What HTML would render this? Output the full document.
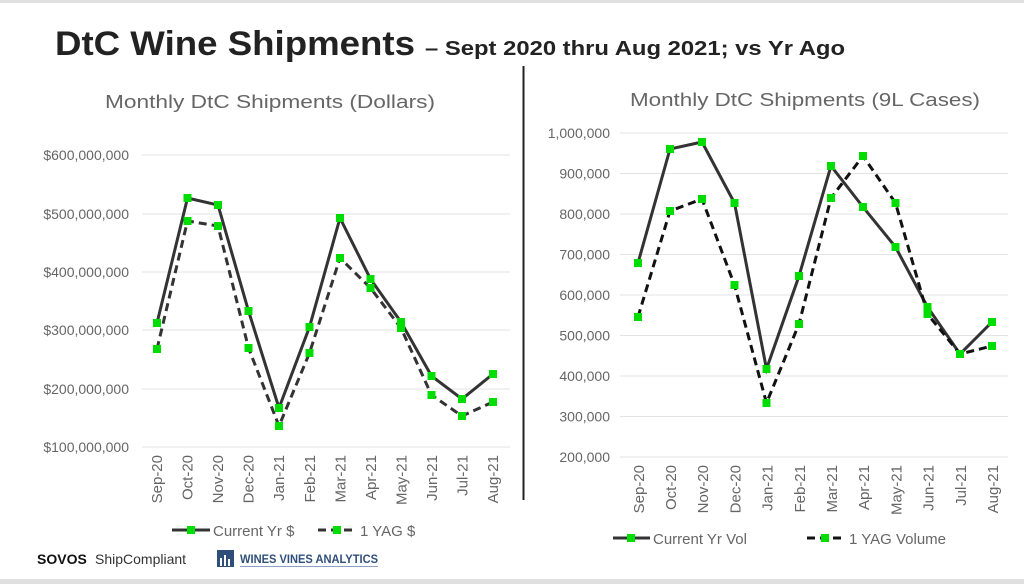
<!DOCTYPE html>
<html><head><meta charset="utf-8"><style>
html,body{margin:0;padding:0;background:#fff;}
svg{display:block;font-family:"Liberation Sans",sans-serif;}
</style></head><body>
<svg width="1024" height="584" viewBox="0 0 1024 584" xmlns="http://www.w3.org/2000/svg">
<rect x="0" y="0" width="1024" height="3" fill="#e0e0e0"/>
<rect x="0" y="579" width="1024" height="5" fill="#e0e0e0"/>
<text x="55" y="55" font-size="34" font-weight="bold" fill="#222" textLength="360" lengthAdjust="spacingAndGlyphs">DtC Wine Shipments</text>
<text x="425" y="55" font-size="20" font-weight="bold" fill="#222" textLength="420" lengthAdjust="spacingAndGlyphs">– Sept 2020 thru Aug 2021; vs Yr Ago</text>
<line x1="523.5" y1="66" x2="523.5" y2="500" stroke="#222" stroke-width="2"/>
<text x="270" y="108" font-size="18" fill="#666" text-anchor="middle" textLength="330" lengthAdjust="spacingAndGlyphs">Monthly DtC Shipments (Dollars)</text>
<text x="805" y="106" font-size="18" fill="#666" text-anchor="middle" textLength="350" lengthAdjust="spacingAndGlyphs">Monthly DtC Shipments (9L Cases)</text>

<!-- Left chart -->
<g stroke="#e3e3e3" stroke-width="1">
<line x1="142" y1="155" x2="510" y2="155"/><line x1="142" y1="214" x2="510" y2="214"/>
<line x1="142" y1="272" x2="510" y2="272"/><line x1="142" y1="330" x2="510" y2="330"/>
<line x1="142" y1="389" x2="510" y2="389"/><line x1="142" y1="447" x2="510" y2="447"/>
</g>
<g font-size="14" fill="#666" text-anchor="end">
<text x="129" y="160">$600,000,000</text><text x="129" y="219">$500,000,000</text>
<text x="129" y="277">$400,000,000</text><text x="129" y="335">$300,000,000</text>
<text x="129" y="394">$200,000,000</text><text x="129" y="452">$100,000,000</text>
</g>
<g font-size="15" fill="#666" text-anchor="end">
<text transform="translate(162,455) rotate(-90)">Sep-20</text>
<text transform="translate(192.5,455) rotate(-90)">Oct-20</text>
<text transform="translate(223,455) rotate(-90)">Nov-20</text>
<text transform="translate(253.5,455) rotate(-90)">Dec-20</text>
<text transform="translate(284,455) rotate(-90)">Jan-21</text>
<text transform="translate(315,455) rotate(-90)">Feb-21</text>
<text transform="translate(345.5,455) rotate(-90)">Mar-21</text>
<text transform="translate(376,455) rotate(-90)">Apr-21</text>
<text transform="translate(406.5,455) rotate(-90)">May-21</text>
<text transform="translate(437,455) rotate(-90)">Jun-21</text>
<text transform="translate(467.5,455) rotate(-90)">Jul-21</text>
<text transform="translate(498,455) rotate(-90)">Aug-21</text>
</g>
<polyline fill="none" stroke="#333" stroke-width="3" points="157,323 187.5,198 218,205 248.5,311 279,408 309.5,327 340,218 370.5,279 401,322 431.5,376 462,399 493,374"/>
<polyline fill="none" stroke="#333" stroke-width="3" stroke-dasharray="8,5" points="157,349 187.5,221 218,226 248.5,348 279,426 309.5,353 340,258 370.5,288 401,328 431.5,395 462,416 493,402"/>
<g fill="#00dd00">
<rect x="153" y="319" width="8" height="8"/><rect x="183.5" y="194" width="8" height="8"/><rect x="214" y="201" width="8" height="8"/><rect x="244.5" y="307" width="8" height="8"/><rect x="275" y="404" width="8" height="8"/><rect x="305.5" y="323" width="8" height="8"/><rect x="336" y="214" width="8" height="8"/><rect x="366.5" y="275" width="8" height="8"/><rect x="397" y="318" width="8" height="8"/><rect x="427.5" y="372" width="8" height="8"/><rect x="458" y="395" width="8" height="8"/><rect x="489" y="370" width="8" height="8"/>
<rect x="153" y="345" width="8" height="8"/><rect x="183.5" y="217" width="8" height="8"/><rect x="214" y="222" width="8" height="8"/><rect x="244.5" y="344" width="8" height="8"/><rect x="275" y="422" width="8" height="8"/><rect x="305.5" y="349" width="8" height="8"/><rect x="336" y="254" width="8" height="8"/><rect x="366.5" y="284" width="8" height="8"/><rect x="397" y="324" width="8" height="8"/><rect x="427.5" y="391" width="8" height="8"/><rect x="458" y="412" width="8" height="8"/><rect x="489" y="398" width="8" height="8"/>
</g>
<line x1="172" y1="530" x2="210" y2="530" stroke="#333" stroke-width="3"/>
<rect x="187" y="526" width="8" height="8" fill="#00dd00"/>
<text x="213" y="536" font-size="15" fill="#666">Current Yr $</text>
<line x1="318" y1="530" x2="356" y2="530" stroke="#333" stroke-width="3" stroke-dasharray="8,5"/>
<rect x="333" y="526" width="8" height="8" fill="#00dd00"/>
<text x="360" y="536" font-size="15" fill="#666">1 YAG $</text>

<!-- Right chart -->
<g stroke="#e3e3e3" stroke-width="1">
<line x1="620" y1="133" x2="1008" y2="133"/><line x1="620" y1="173.5" x2="1008" y2="173.5"/>
<line x1="620" y1="214" x2="1008" y2="214"/><line x1="620" y1="254.5" x2="1008" y2="254.5"/>
<line x1="620" y1="295" x2="1008" y2="295"/><line x1="620" y1="335.5" x2="1008" y2="335.5"/>
<line x1="620" y1="376" x2="1008" y2="376"/><line x1="620" y1="416.5" x2="1008" y2="416.5"/>
<line x1="620" y1="457" x2="1008" y2="457"/>
</g>
<g font-size="14" fill="#666" text-anchor="end">
<text x="610" y="138">1,000,000</text><text x="610" y="178.5">900,000</text>
<text x="610" y="219">800,000</text><text x="610" y="259.5">700,000</text>
<text x="610" y="300">600,000</text><text x="610" y="340.5">500,000</text>
<text x="610" y="381">400,000</text><text x="610" y="421.5">300,000</text>
<text x="610" y="462">200,000</text>
</g>
<g font-size="15" fill="#666" text-anchor="end">
<text transform="translate(644,465) rotate(-90)">Sep-20</text>
<text transform="translate(676,465) rotate(-90)">Oct-20</text>
<text transform="translate(708,465) rotate(-90)">Nov-20</text>
<text transform="translate(740.5,465) rotate(-90)">Dec-20</text>
<text transform="translate(772.5,465) rotate(-90)">Jan-21</text>
<text transform="translate(805,465) rotate(-90)">Feb-21</text>
<text transform="translate(837,465) rotate(-90)">Mar-21</text>
<text transform="translate(869,465) rotate(-90)">Apr-21</text>
<text transform="translate(901.5,465) rotate(-90)">May-21</text>
<text transform="translate(933.5,465) rotate(-90)">Jun-21</text>
<text transform="translate(966,465) rotate(-90)">Jul-21</text>
<text transform="translate(998,465) rotate(-90)">Aug-21</text>
</g>
<polyline fill="none" stroke="#333" stroke-width="3" points="638,263 670,149 702,142 734.5,203 766.5,369 799,276 831,166 863,207 895.5,247 927.5,307 960,354 992,322"/>
<polyline fill="none" stroke="#111" stroke-width="3" stroke-dasharray="8,5" points="638,317 670,211 702,199 734.5,285 766.5,403 799,324 831,198 863,156 895.5,203 927.5,314 960,354 992,346"/>
<g fill="#00dd00">
<rect x="634" y="259" width="8" height="8"/><rect x="666" y="145" width="8" height="8"/><rect x="698" y="138" width="8" height="8"/><rect x="730.5" y="199" width="8" height="8"/><rect x="762.5" y="365" width="8" height="8"/><rect x="795" y="272" width="8" height="8"/><rect x="827" y="162" width="8" height="8"/><rect x="859" y="203" width="8" height="8"/><rect x="891.5" y="243" width="8" height="8"/><rect x="923.5" y="303" width="8" height="8"/><rect x="956" y="350" width="8" height="8"/><rect x="988" y="318" width="8" height="8"/>
<rect x="634" y="313" width="8" height="8"/><rect x="666" y="207" width="8" height="8"/><rect x="698" y="195" width="8" height="8"/><rect x="730.5" y="281" width="8" height="8"/><rect x="762.5" y="399" width="8" height="8"/><rect x="795" y="320" width="8" height="8"/><rect x="827" y="194" width="8" height="8"/><rect x="859" y="152" width="8" height="8"/><rect x="891.5" y="199" width="8" height="8"/><rect x="923.5" y="310" width="8" height="8"/><rect x="956" y="350" width="8" height="8"/><rect x="988" y="342" width="8" height="8"/>
</g>
<line x1="613" y1="538" x2="650" y2="538" stroke="#333" stroke-width="3"/>
<rect x="627" y="534" width="8" height="8" fill="#00dd00"/>
<text x="653" y="544" font-size="15" fill="#666">Current Yr Vol</text>
<line x1="807" y1="538" x2="843" y2="538" stroke="#111" stroke-width="3" stroke-dasharray="8,5"/>
<rect x="821" y="534" width="8" height="8" fill="#00dd00"/>
<text x="849" y="544" font-size="15" fill="#666">1 YAG Volume</text>

<!-- Logos -->
<text x="37" y="564" font-size="14" font-weight="bold" fill="#111">SOVOS</text>
<text x="95" y="564" font-size="14" fill="#333">ShipCompliant</text>
<rect x="217" y="550" width="17" height="17" fill="#2f4f7a"/>
<rect x="220" y="558" width="2" height="8" fill="#fff"/><rect x="224" y="555" width="2" height="11" fill="#fff"/><rect x="228" y="559" width="2" height="7" fill="#fff"/>
<text x="240" y="563" font-size="12" font-weight="bold" fill="#2f4f7a" textLength="138" lengthAdjust="spacingAndGlyphs">WINES VINES ANALYTICS</text>
<line x1="240" y1="566.5" x2="378" y2="566.5" stroke="#8aa0c0" stroke-width="1"/>
</svg>
</body></html>
